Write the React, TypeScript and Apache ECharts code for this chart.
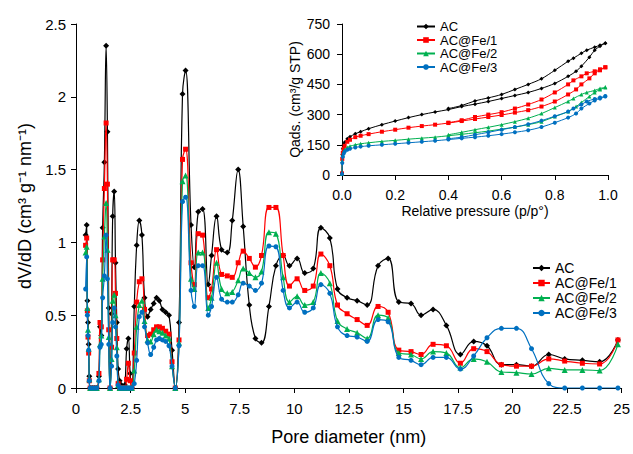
import React, { useEffect, useRef } from "react";
import * as echarts from "echarts";

// ---------- Main chart: pore size distribution ----------
const poreDiameter = [
  0.44, 0.49, 0.52, 0.55, 0.58, 0.61, 0.65, 0.75, 0.85, 0.95,
  1.05, 1.10, 1.16, 1.22, 1.30, 1.38, 1.44, 1.50, 1.56, 1.63,
  1.68, 1.75, 1.81, 1.87, 1.93, 2.00, 2.08, 2.16, 2.24, 2.32,
  2.40, 2.48, 2.56, 2.67, 2.78, 2.90, 3.02, 3.14, 3.28, 3.42,
  3.56, 3.69, 3.82, 3.96, 4.11, 4.26, 4.40, 4.55, 4.72, 4.88,
  5.02, 5.27, 5.42, 5.60, 5.80, 6.06, 6.21, 6.44, 6.67, 6.93,
  7.16, 7.43, 7.66, 7.94, 8.22, 8.50, 8.84, 9.16, 9.49, 9.78,
  10.13, 10.48, 10.87, 11.22, 11.63, 11.98, 12.42, 12.88, 13.34, 13.84,
  14.30, 14.79, 15.35, 15.81, 16.36, 16.97, 17.61, 18.22, 18.83, 19.49,
  20.18, 20.87, 21.66, 22.39, 23.20, 23.99, 24.83,
];

const acPSD = [
  1.05, 1.12, 0.60, 0.45, 0.30, 0.08, 0, 0, 0, 0,
  0.08, 0.42, 0.36, 1.10, 1.55, 2.35, 1.76, 0.55, 0, 0.51,
  1.18, 1.35, 0.86, 0.45, 0.13, 0.05, 0.02, 0, 0.02, 0.27,
  0.34, 0.10, 0, 0.56, 0.98, 1.15, 1.05, 0.62, 0.49, 0.54,
  0.58, 0.62, 0.60, 0.54, 0.52, 0.50, 0.26, 0, 0.45, 2.02,
  2.18, 1.12, 0.83, 1.21, 1.23, 0.71, 0.91, 1.18, 0.95, 0.93,
  1.15, 1.50, 1.11, 0.57, 0.34, 0.31, 0.56, 0.84, 0.91, 0.84,
  0.89, 0.79, 0.82, 1.10, 1.03, 0.68, 0.62, 0.60, 0.57, 0.84,
  0.89, 0.59, 0.58, 0.50, 0.54, 0.43, 0.23, 0.32, 0.29, 0.16,
  0.16, 0.15, 0.23, 0.20, 0.19, 0.18, 0.33,
];

const fe1PSD = [
  0.98, 1.03, 0.53, 0.35, 0.24, 0.05, 0, 0, 0, 0,
  0.10, 0.45, 0.42, 0.88, 1.37, 1.82, 1.40, 0.40, 0, 0.28,
  0.88, 0.88, 0.65, 0.34, 0.03, 0, 0, 0, 0, 0.06,
  0.17, 0.05, 0, 0.24, 0.59, 0.73, 0.75, 0.54, 0.36, 0.37,
  0.40, 0.42, 0.42, 0.41, 0.39, 0.37, 0.18, 0, 0.33, 1.57,
  1.64, 0.86, 0.71, 1.06, 1.05, 0.62, 0.68, 0.95, 0.78, 0.77,
  0.76, 0.86, 0.94, 0.89, 0.83, 0.91, 1.24, 1.24, 0.91, 0.70,
  0.75, 0.67, 0.70, 0.92, 0.84, 0.57, 0.51, 0.47, 0.43, 0.56,
  0.52, 0.26, 0.25, 0.23, 0.30, 0.29, 0.17, 0.27, 0.25, 0.16,
  0.15, 0.15, 0.20, 0.185, 0.17, 0.165, 0.33,
];

const fe2PSD = [
  0.93, 0.97, 0.55, 0.40, 0.27, 0.06, 0, 0, 0, 0,
  0.06, 0.30, 0.36, 0.75, 1.04, 1.27, 0.95, 0.35, 0, 0.20,
  0.60, 0.64, 0.50, 0.28, 0.02, 0, 0, 0, 0, 0,
  0, 0, 0, 0.12, 0.42, 0.57, 0.60, 0.46, 0.33, 0.32,
  0.37, 0.40, 0.39, 0.38, 0.36, 0.34, 0.15, 0, 0.31, 1.42,
  1.46, 0.75, 0.68, 0.93, 0.93, 0.55, 0.62, 0.86, 0.68, 0.65,
  0.66, 0.74, 0.82, 0.79, 0.76, 0.80, 1.07, 1.06, 0.76, 0.59,
  0.63, 0.57, 0.59, 0.79, 0.72, 0.46, 0.405, 0.38, 0.34, 0.50,
  0.48, 0.24, 0.23, 0.20, 0.25, 0.24, 0.14, 0.20, 0.18, 0.11,
  0.105, 0.096, 0.135, 0.124, 0.124, 0.12, 0.30,
];

const fe3PSD = [
  0.68, 0.90, 0.50, 0.36, 0.26, 0.05, 0, 0, 0, 0,
  0.05, 0.28, 0.30, 0.62, 0.77, 1.05, 0.75, 0.30, 0, 0.15,
  0.45, 0.55, 0.42, 0.22, 0.02, 0, 0, 0, 0, 0,
  0, 0, 0, 0.03, 0.19, 0.49, 0.52, 0.42, 0.31, 0.23,
  0.28, 0.33, 0.34, 0.33, 0.32, 0.29, 0.15, 0, 0.29, 1.28,
  1.31, 0.67, 0.56, 0.84, 0.84, 0.50, 0.56, 0.76, 0.61, 0.59,
  0.59, 0.64, 0.72, 0.70, 0.67, 0.72, 0.975, 0.97, 0.67, 0.55,
  0.59, 0.52, 0.55, 0.71, 0.65, 0.42, 0.36, 0.35, 0.32, 0.47,
  0.455, 0.21, 0.19, 0.16, 0.21, 0.21, 0.13, 0.22, 0.345, 0.41,
  0.41, 0.27, 0.03, 0, 0, 0, 0,
];

// ---------- Inset: N2 isotherms ----------
const pAds = [
  0.0001, 0.001, 0.003, 0.006, 0.01, 0.02, 0.03, 0.05, 0.07, 0.1,
  0.15, 0.2, 0.25, 0.3, 0.35, 0.4, 0.45, 0.5, 0.55, 0.6,
  0.65, 0.7, 0.75, 0.8, 0.85, 0.88, 0.9, 0.93, 0.95, 0.97, 0.99,
];
const pDes = [0.99, 0.97, 0.95, 0.92, 0.9, 0.87, 0.85, 0.8, 0.75, 0.7, 0.65, 0.6, 0.55, 0.5, 0.45, 0.4];

const acAds = [10, 100, 130, 150, 163, 180, 190, 205, 215, 230, 250, 268, 285, 300, 313, 325, 340, 352, 365, 380, 395, 410, 430, 455, 490, 515, 540, 585, 620, 640, 655];
const acDes = [655, 645, 635, 620, 605, 580, 565, 520, 478, 450, 425, 400, 383, 368, 345, 330];
const fe1Ads = [8, 80, 110, 130, 145, 165, 175, 188, 195, 203, 215, 225, 235, 243, 250, 258, 268, 278, 288, 298, 310, 322, 340, 365, 400, 425, 450, 480, 505, 520, 535];
const fe1Des = [535, 525, 515, 505, 490, 470, 450, 410, 375, 350, 330, 312, 300, 288, 272, 260];
const fe2Ads = [6, 70, 100, 115, 125, 137, 143, 150, 155, 160, 167, 172, 178, 183, 188, 195, 202, 210, 218, 228, 238, 250, 265, 290, 315, 340, 360, 390, 410, 425, 435];
const fe2Des = [437, 430, 420, 410, 400, 380, 365, 335, 305, 282, 265, 250, 237, 225, 212, 200];
const fe3Ads = [5, 60, 90, 105, 115, 125, 130, 137, 141, 145, 150, 155, 160, 165, 170, 176, 182, 188, 195, 203, 212, 222, 238, 260, 285, 305, 330, 355, 370, 380, 390];
const fe3Des = [392, 385, 378, 365, 350, 330, 315, 292, 270, 252, 238, 225, 212, 200, 188, 180];

const seriesNames = ["AC", "AC@Fe/1", "AC@Fe/2", "AC@Fe/3"];
const pdTicks = [0, 2.5, 5, 7.5, 10, 12.5, 15, 17.5, 20, 22.5, 25];

export default function App() {
  const ref = useRef<HTMLDivElement>(null);

  useEffect(() => {
    if (!ref.current) return;
    const chart = echarts.init(ref.current, null, { renderer: "svg" });
    const font = "'Liberation Sans', Arial, Helvetica, sans-serif";
    const colors = ["#000000", "#ff0000", "#00b050", "#0070c0"];
    const symbols = ["diamond", "rect", "triangle", "circle"];
    const sizes = [6, 5, 6, 5];
    const psd = [acPSD, fe1PSD, fe2PSD, fe3PSD];
    const iso = [
      [acAds, acDes],
      [fe1Ads, fe1Des],
      [fe2Ads, fe2Des],
      [fe3Ads, fe3Des],
    ];
    const pair = (xs: number[], ys: number[]) => xs.map((x, i) => [x, ys[i]]);

    const axisLine = { show: true, lineStyle: { color: "#000", width: 1 } };
    const axisTick = { show: true, inside: false, length: 5, lineStyle: { color: "#000", width: 1 } };

    const mainSeries = psd.map((vals, i) => ({
      name: seriesNames[i],
      type: "line",
      xAxisIndex: 0,
      yAxisIndex: 0,
      data: pair(poreDiameter, vals),
      smooth: 0.45,
      symbol: symbols[i],
      symbolSize: sizes[i],
      showSymbol: true,
      color: colors[i],
      lineStyle: { color: colors[i], width: 1.2 },
      itemStyle: { color: colors[i] },
      z: 2 + i,
    }));

    const insetSeries = iso.map(([ads, des], i) => ({
      name: seriesNames[i],
      type: "line",
      xAxisIndex: 1,
      yAxisIndex: 1,
      data: pair(pAds, ads).concat(pair(pDes, des)),
      smooth: 0.3,
      symbol: symbols[i],
      symbolSize: 4,
      showSymbol: true,
      color: colors[i],
      lineStyle: { color: colors[i], width: 1 },
      itemStyle: { color: colors[i] },
      z: 10 + i,
    }));

    chart.setOption({
      animation: false,
      textStyle: { fontFamily: font, color: "#000" },
      grid: [
        { left: 76, top: 24, width: 546, height: 364 },
        { left: 342, top: 24, width: 266, height: 151 },
      ],
      legend: [
        {
          data: seriesNames,
          orient: "vertical",
          left: 532,
          top: 261,
          padding: 0,
          itemWidth: 17,
          itemHeight: 8,
          itemGap: 1,
          textStyle: { fontSize: 14, lineHeight: 14, color: "#000", fontFamily: font },
        },
        {
          data: seriesNames,
          orient: "vertical",
          left: 416,
          top: 20,
          padding: 0,
          itemWidth: 18,
          itemHeight: 7,
          itemGap: 0.5,
          textStyle: { fontSize: 13, lineHeight: 13, color: "#000", fontFamily: font },
        },
      ],
      xAxis: [
        {
          type: "value",
          gridIndex: 0,
          min: pdTicks[0],
          max: pdTicks[pdTicks.length - 1],
          interval: 2.5,
          axisLine,
          axisTick,
          splitLine: { show: false },
          axisLabel: { color: "#000", fontSize: 15, margin: 13, fontFamily: font },
          name: "Pore diameter (nm)",
          nameLocation: "middle",
          nameGap: 40,
          nameTextStyle: { fontSize: 18, color: "#000", fontFamily: font },
        },
        {
          type: "value",
          gridIndex: 1,
          min: 0,
          max: 1,
          interval: 0.2,
          axisLine,
          axisTick,
          splitLine: { show: false },
          axisLabel: {
            color: "#000",
            fontSize: 14,
            margin: 13,
            fontFamily: font,
            formatter: (v: number) => v.toFixed(1),
          },
          name: "Relative pressure (p/p°)",
          nameLocation: "middle",
          nameGap: 29,
          nameTextStyle: { fontSize: 14, color: "#000", fontFamily: font },
        },
      ],
      yAxis: [
        {
          type: "value",
          gridIndex: 0,
          min: 0,
          max: 2.5,
          interval: 0.5,
          axisLine,
          axisTick,
          splitLine: { show: false },
          axisLabel: { color: "#000", fontSize: 15, margin: 10, fontFamily: font },
          name: "dV/dD (cm³ g⁻¹ nm⁻¹)",
          nameLocation: "middle",
          nameGap: 38,
          nameTextStyle: { fontSize: 18, color: "#000", fontFamily: font },
        },
        {
          type: "value",
          gridIndex: 1,
          min: 0,
          max: 750,
          interval: 150,
          axisLine,
          axisTick,
          splitLine: { show: false },
          axisLabel: { color: "#000", fontSize: 14, margin: 12, fontFamily: font },
          name: "Qads. (cm³/g STP)",
          nameLocation: "middle",
          nameGap: 40,
          nameTextStyle: { fontSize: 14, color: "#000", fontFamily: font },
        },
      ],
      series: [...mainSeries, ...insetSeries],
    });

    return () => chart.dispose();
  }, []);

  return (
    <div
      ref={ref}
      style={{ position: "fixed", left: 0, top: 0, width: 633, height: 454, background: "#fff" }}
    />
  );
}
